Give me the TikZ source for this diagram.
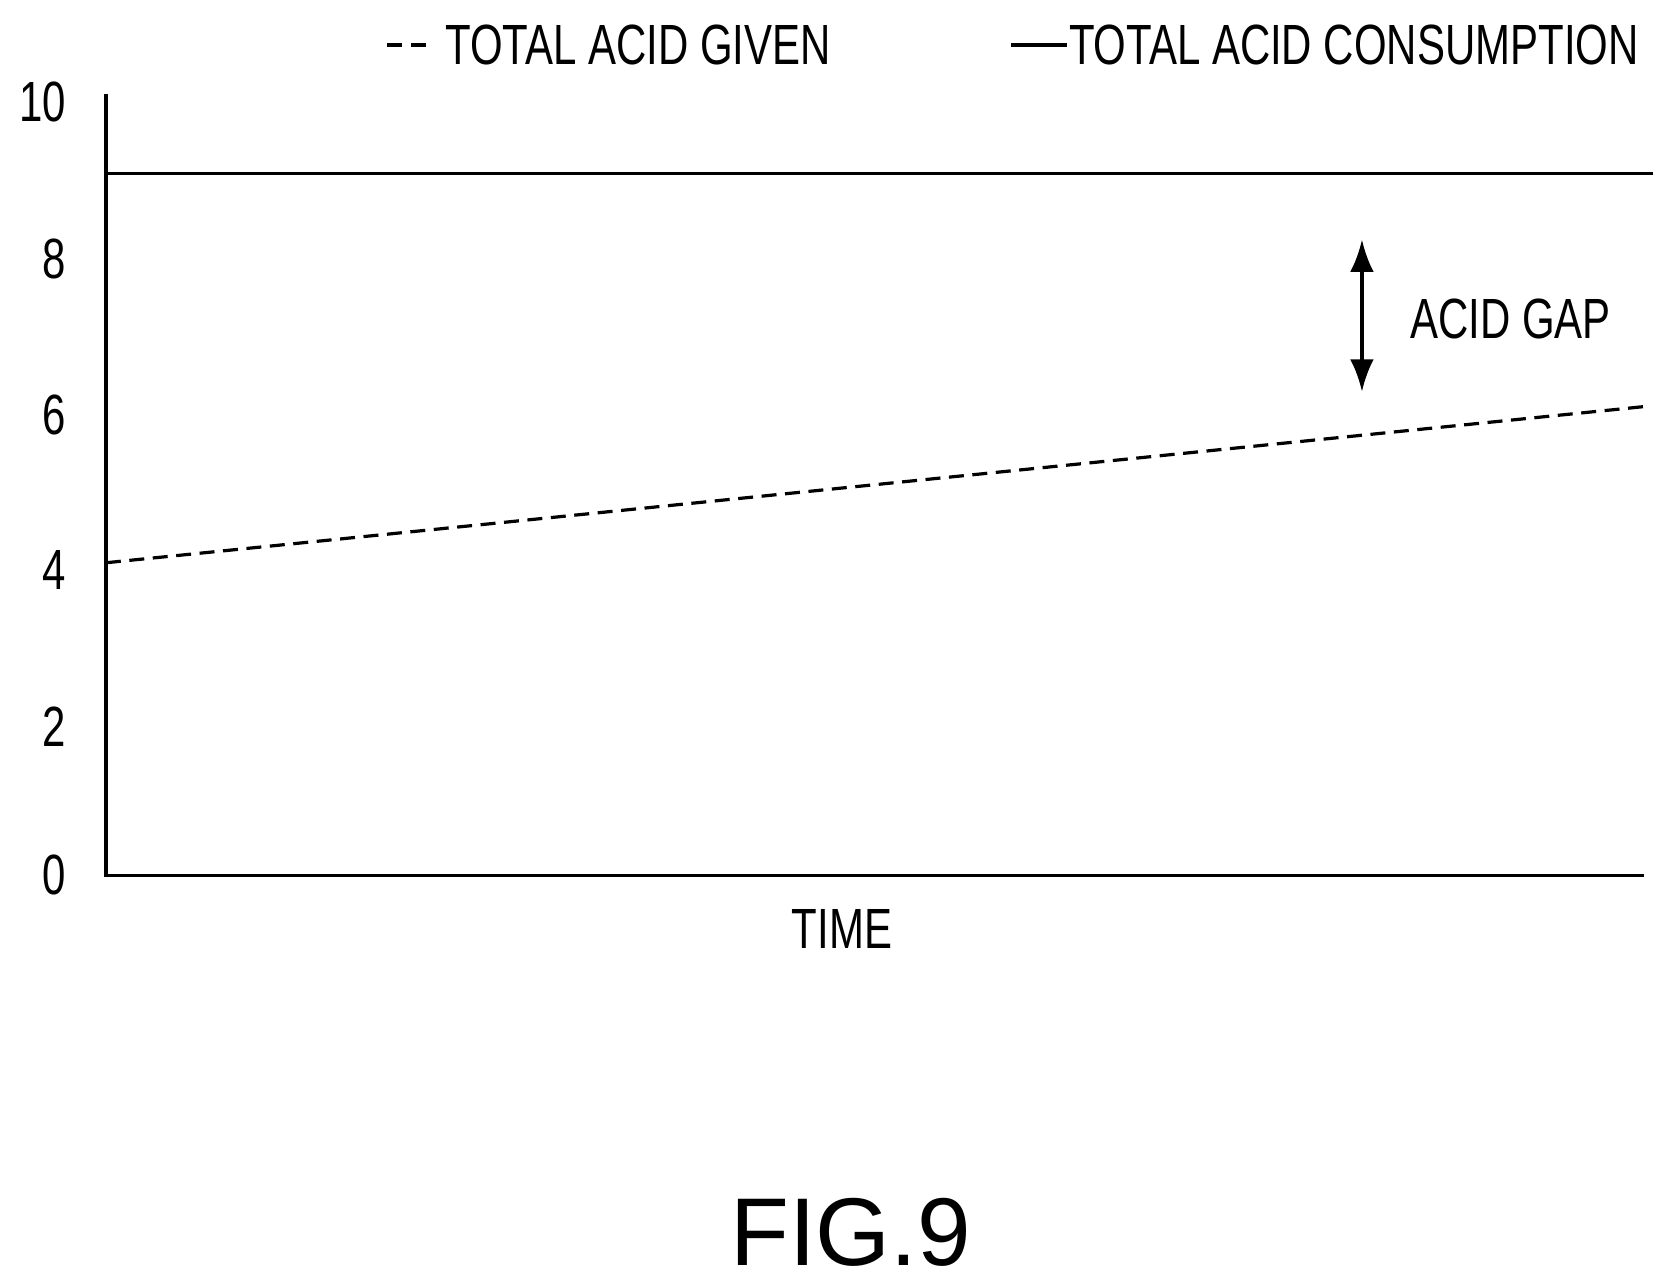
\documentclass[tikz,border=0pt]{standalone}
\usepackage{fontspec}
\setmainfont{Liberation Sans}
\newfontfamily\narrowf[FakeStretch=0.74]{Liberation Sans}
\usetikzlibrary{arrows.meta}
\begin{document}
\begin{tikzpicture}[x=1pt,y=-1pt,
  lbl/.style={inner sep=0pt,font=\narrowf\fontsize{53}{60}\selectfont},
  ln/.style={line width=3pt}]
\useasboundingbox (0,0) rectangle (1560,1202);
\coordinate (o) at (99,818);
\coordinate (ytop) at (99,88);
\coordinate (xend) at (1537,818);
\draw[ln] (ytop) -- (o) -- (xend);
\coordinate (s1) at (99,162); \coordinate (s2) at (1545,162);
\draw[ln] (s1) -- (s2);
\coordinate (d1) at (99,526); \coordinate (d2) at (1537,380);
\draw[ln,dash pattern=on 14pt off 8pt] (d1) -- (d2);
\coordinate (a1) at (1273,224); \coordinate (a2) at (1273,366);
\draw[ln,{Latex[length=30pt,width=22pt]}-{Latex[length=30pt,width=22pt]}] (a1) -- (a2);
\node[lbl,anchor=west] (gap) at (1318,298) {ACID GAP};
\foreach \v/\yy in {0/818,2/679,4/533,6/388,8/242,10/95}
  \node[lbl,anchor=east] (t\v) at (62,\yy) {\v};
\node[lbl] (time) at (787,868) {TIME};
\coordinate (l1) at (362,42); \coordinate (l2) at (405,42);
\draw[ln,dash pattern=on 14pt off 8pt] (l1) -- (l2);
\node[lbl,anchor=west] (lg1) at (416,42) {TOTAL ACID GIVEN};
\coordinate (m1) at (945,42); \coordinate (m2) at (997,42);
\draw[ln] (m1) -- (m2);
\node[lbl,anchor=west] (lg2) at (999,42) {TOTAL ACID CONSUMPTION};
\node[inner sep=0pt,font=\fontsize{90}{100}\selectfont] (fig) at (795,1152) {FIG.9};
\end{tikzpicture}
\end{document}
